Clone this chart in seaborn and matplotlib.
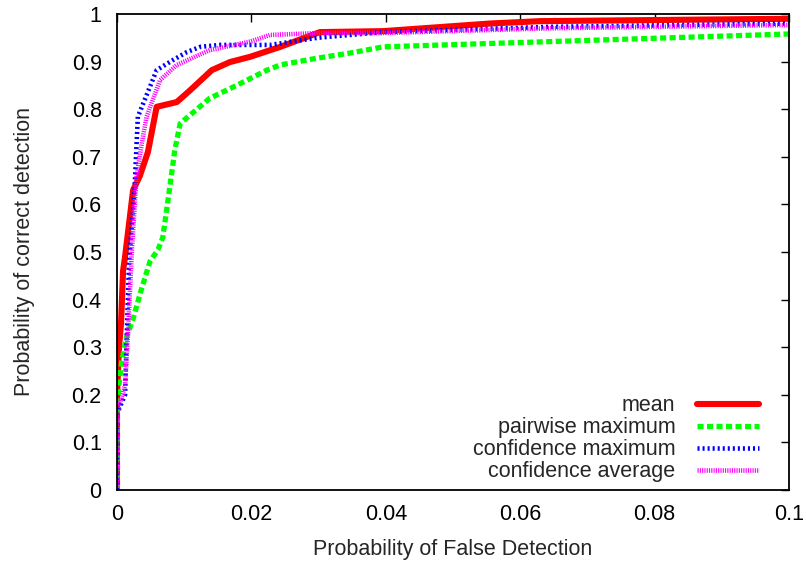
import matplotlib
matplotlib.use("Agg")
import matplotlib.pyplot as plt
import seaborn as sns
import pandas as pd

# ---- data ----
mean_x = [0, 0.0, 0.0003, 0.0006, 0.0009, 0.0012, 0.0018, 0.0024, 0.0034, 0.0046, 0.0059,
          0.0089, 0.0109, 0.0141, 0.0168, 0.0198, 0.0243, 0.0302, 0.0396, 0.0555, 0.0630, 0.1]
mean_y = [0, 0.2, 0.3, 0.35, 0.46, 0.49, 0.56, 0.63, 0.66, 0.71, 0.805,
          0.815, 0.84, 0.882, 0.899, 0.91, 0.931, 0.962, 0.964, 0.98, 0.985, 0.99]

pair_x = [0, 0.0, 0.0002, 0.0007, 0.0014, 0.0024, 0.0036, 0.0049, 0.0061, 0.0068, 0.0076,
          0.0086, 0.0094, 0.0109, 0.0138, 0.0178, 0.0223, 0.0243, 0.0297, 0.0347, 0.0396, 0.0644, 0.1]
pair_y = [0, 0.15, 0.21, 0.27, 0.32, 0.36, 0.42, 0.48, 0.505, 0.53, 0.61,
          0.714, 0.77, 0.788, 0.823, 0.85, 0.882, 0.893, 0.907, 0.918, 0.931, 0.942, 0.958]

cmax_x = [0, 0.0, 0.0012, 0.0014, 0.0018, 0.0026, 0.0031, 0.0059, 0.0083, 0.0104, 0.0124,
          0.0153, 0.0228, 0.0298, 0.0396, 0.0644, 0.1]
cmax_y = [0, 0.16, 0.2, 0.3, 0.48, 0.63, 0.784, 0.882, 0.903, 0.92, 0.931,
          0.935, 0.935, 0.95, 0.962, 0.973, 0.98]

cavg_x = [0, 0.0, 0.0012, 0.0016, 0.0022, 0.0029, 0.0037, 0.0044, 0.0064, 0.0089, 0.0138,
          0.0198, 0.0228, 0.03, 0.0396, 0.0644, 0.1]
cavg_y = [0, 0.16, 0.22, 0.32, 0.5, 0.658, 0.729, 0.784, 0.861, 0.893, 0.924,
          0.942, 0.956, 0.96, 0.96, 0.97, 0.977]

labels = ["mean", "pairwise maximum", "confidence maximum", "confidence average"]
x_ticks = [0, 0.02, 0.04, 0.06, 0.08, 0.1]
x_ticklabels = ["0", "0.02", "0.04", "0.06", "0.08", "0.1"]
y_ticks = [0, 0.1, 0.2, 0.3, 0.4, 0.5, 0.6, 0.7, 0.8, 0.9, 1.0]
y_ticklabels = ["0", "0.1", "0.2", "0.3", "0.4", "0.5", "0.6", "0.7", "0.8", "0.9", "1"]

sns.set_style("white")
plt.rcParams["font.family"] = ["Liberation Sans", "DejaVu Sans"]
FS = 15.5

fig = plt.figure(figsize=(8.06, 5.62), dpi=100)
ax = fig.add_axes([117 / 806, 1 - 490 / 562, 672 / 806, 476 / 562])

series = [
    (mean_x, mean_y, labels[0], "#ff0000", 4.4, "-"),
    (pair_x, pair_y, labels[1], "#00ff00", 3.8, (0, (1.15, 0.65))),
    (cmax_x, cmax_y, labels[2], "#0000ff", 3.3, (0, (0.45, 0.65))),
    (cavg_x, cavg_y, labels[3], "#ff00ff", 3.3, (0, (0.25, 0.25))),
]
for xs, ys, lab, col, lw, ls in series:
    df = pd.DataFrame({"x": xs, "y": ys})
    sns.lineplot(data=df, x="x", y="y", ax=ax, estimator=None, sort=False,
                 color=col, linewidth=lw, linestyle=ls, label=lab)

ax.set_xlim(0, 0.1)
ax.set_ylim(0, 1)
ax.set_xticks(x_ticks)
ax.set_xticklabels(x_ticklabels)
ax.set_yticks(y_ticks)
ax.set_yticklabels(y_ticklabels)
ax.tick_params(axis="both", direction="in", length=6, width=1, top=True, right=True,
               labelsize=FS, colors="black")
ax.tick_params(axis="y", pad=11)
ax.tick_params(axis="x", pad=10)
for s in ax.spines.values():
    s.set_color("black")
    s.set_linewidth(1.3)

ax.set_xlabel("Probability of False Detection", fontsize=FS, labelpad=10)
ax.set_ylabel("Probability of correct detection", fontsize=FS, labelpad=26)

leg = ax.legend(loc="lower right", bbox_to_anchor=((768 - 117) / 672, (490 - 491) / 476),
                borderaxespad=0, frameon=False, markerfirst=False, fontsize=FS,
                handlelength=2.9, handletextpad=1.0, labelspacing=0.05)

fig.savefig("out.png", dpi=100)
